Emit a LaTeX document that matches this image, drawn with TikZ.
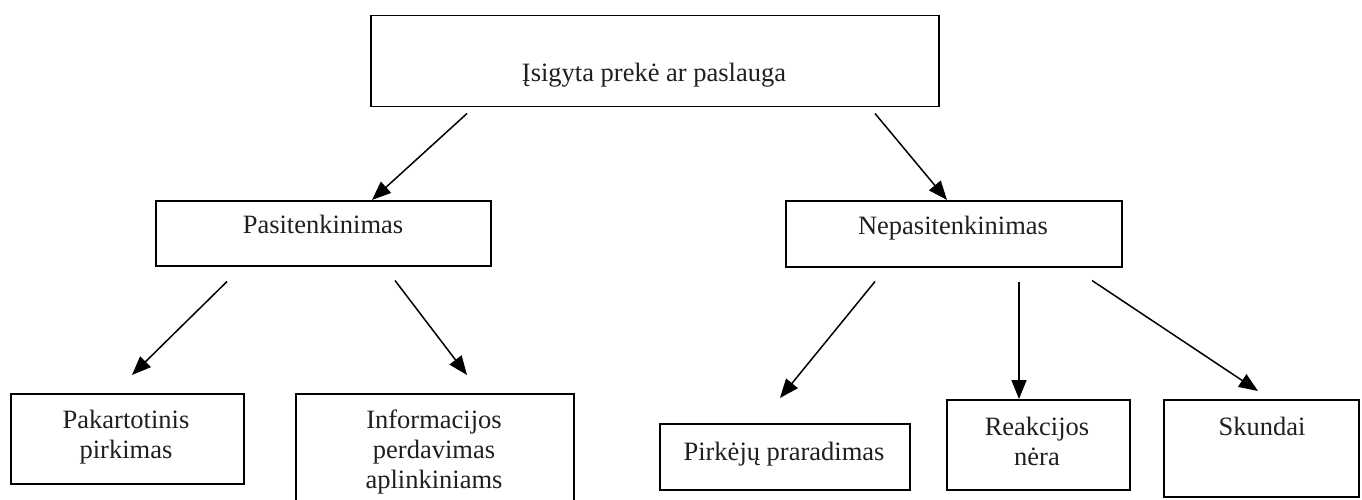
\documentclass[tikz,border=0pt]{standalone}
\usepackage{fontspec}
\setmainfont{Liberation Serif}
\usetikzlibrary{arrows.meta,calc}
\begin{document}
\begin{tikzpicture}[x=1pt,y=-1pt,
  box/.style={draw, line width=1.5pt, anchor=north west, inner sep=0pt},
  lbl/.style={font=\fontsize{26.5}{30}\selectfont, align=center, anchor=base, inner sep=0pt, text=black!88},
  arr/.style={line width=1.5pt, -{Triangle[length=19pt,width=15pt]}}]
\useasboundingbox (0,0) rectangle (1362,500);
\clip (0,0) rectangle (1362,500);
% boxes
\node[box, minimum width=568pt, minimum height=91pt] (top) at (370,15) {};
\node[box, minimum width=335pt, minimum height=65pt] (pas) at (155,200) {};
\node[box, minimum width=336pt, minimum height=66pt] (nep) at (785,200) {};
\node[box, minimum width=233pt, minimum height=90pt] (pak) at (10,393) {};
\node[box, minimum width=278pt, minimum height=125pt] (inf) at (295,393) {};
\node[box, minimum width=250pt, minimum height=66pt] (pir) at (659,423) {};
\node[box, minimum width=183pt, minimum height=90pt] (rea) at (946,399) {};
\node[box, minimum width=195pt, minimum height=97pt] (sku) at (1163,399) {};
% texts
\node[lbl] (topt) at (654,82) {Įsigyta prekė ar paslauga};
\node[lbl] (past) at (323,233) {Pasitenkinimas};
\node[lbl] (nept) at (953,234) {Nepasitenkinimas};
\node[lbl] (pakt) at (126,458) {Pakartotinis\\pirkimas};
\node[lbl] (inft) at (434,488) {Informacijos\\perdavimas\\aplinkiniams};
\node[lbl] (pirt) at (784,460) {Pirkėjų praradimas};
\node[lbl] (reat) at (1037,465) {Reakcijos\\nėra};
\node[lbl] (skut) at (1262,435) {Skundai};
% arrows
\draw[arr] ($(top.south west)+(97,6)$) -- ($(pas.north west)+(217,0)$);
\draw[arr] ($(top.south west)+(505,6)$) -- ($(nep.north west)+(162,0)$);
\draw[arr] ($(pas.south west)+(72,15)$) -- ($(pak.north west)+(122,-18)$);
\draw[arr] ($(pas.south west)+(240,14)$) -- ($(inf.north west)+(172,-18)$);
\draw[arr] ($(nep.south west)+(90,14)$) -- ($(pir.north west)+(121,-25)$);
\draw[arr] ($(nep.south west)+(234,14)$) -- ($(rea.north west)+(73,0)$);
\draw[arr] ($(nep.south west)+(307,13)$) -- ($(sku.north west)+(95,-8)$);
\end{tikzpicture}
\end{document}
